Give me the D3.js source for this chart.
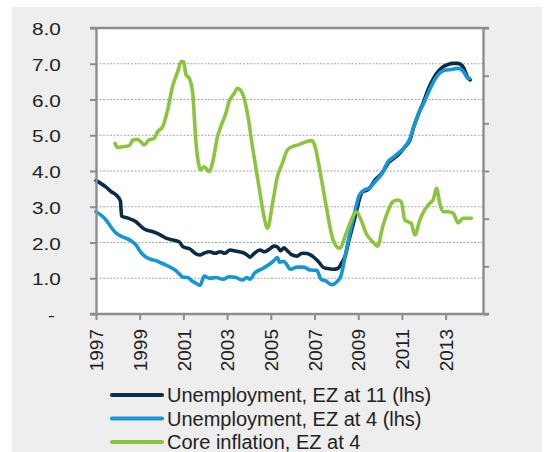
<!DOCTYPE html>
<html>
<head>
<meta charset="utf-8">
<script src="https://cdn.jsdelivr.net/npm/d3@7"></script>
<style>
  body { margin: 0; background: #fff; }
  svg text { font-family: "Liberation Sans", Arial, sans-serif; fill: #222; }
</style>
</head>
<body>
<svg id="chart" width="549" height="452"></svg>
<script>
// DATA
const ez11 = [[1997.00,3.73],[1997.25,3.64],[1997.46,3.55],[1997.7,3.42],[1997.92,3.33],[1998.12,3.16],[1998.17,2.74],[1998.46,2.68],[1998.83,2.58],[1999.06,2.45],[1999.29,2.35],[1999.5,2.32],[1999.75,2.27],[1999.98,2.2],[2000.2,2.12],[2000.45,2.08],[2000.66,2.05],[2000.84,2.0],[2000.98,1.88],[2001.3,1.82],[2001.58,1.68],[2001.76,1.65],[2001.94,1.70],[2002.2,1.74],[2002.45,1.70],[2002.68,1.74],[2002.9,1.70],[2003.13,1.79],[2003.4,1.76],[2003.7,1.72],[2003.9,1.66],[2004.05,1.59],[2004.25,1.70],[2004.5,1.79],[2004.7,1.74],[2004.9,1.80],[2005.15,1.90],[2005.3,1.88],[2005.45,1.77],[2005.6,1.85],[2005.74,1.78],[2005.95,1.66],[2006.2,1.62],[2006.43,1.70],[2006.66,1.69],[2006.85,1.64],[2007.02,1.56],[2007.2,1.45],[2007.39,1.31],[2007.6,1.27],[2007.85,1.25],[2008.08,1.28],[2008.26,1.45],[2008.4,1.62],[2008.58,2.07],[2008.86,2.72],[2009.1,3.30],[2009.2,3.42],[2009.35,3.45],[2009.49,3.50],[2009.77,3.75],[2010.09,3.94],[2010.41,4.25],[2010.62,4.35],[2010.82,4.45],[2011.1,4.65],[2011.37,4.87],[2011.55,5.25],[2011.74,5.57],[2012.0,5.95],[2012.19,6.27],[2012.45,6.60],[2012.65,6.78],[2012.9,6.92],[2013.11,6.98],[2013.35,7.01],[2013.57,7.01],[2013.75,6.95],[2013.89,6.80],[2014.0,6.62],[2014.12,6.55]];

const ez4 = [[1997.00,2.86],[1997.2,2.78],[1997.46,2.63],[1997.7,2.42],[1997.92,2.26],[1998.14,2.18],[1998.37,2.12],[1998.6,2.05],[1998.83,1.93],[1999.06,1.72],[1999.29,1.59],[1999.5,1.53],[1999.75,1.49],[2000.0,1.42],[2000.2,1.37],[2000.43,1.30],[2000.66,1.21],[2000.84,1.10],[2000.98,1.03],[2001.2,1.02],[2001.4,0.92],[2001.58,0.86],[2001.76,0.80],[2001.95,1.06],[2002.2,1.00],[2002.5,1.02],[2002.8,0.97],[2003.1,1.04],[2003.4,1.02],[2003.7,0.95],[2003.9,1.02],[2004.05,0.97],[2004.25,1.14],[2004.65,1.28],[2004.95,1.40],[2005.15,1.50],[2005.3,1.58],[2005.4,1.45],[2005.6,1.47],[2005.9,1.25],[2006.2,1.31],[2006.5,1.31],[2006.8,1.23],[2007.1,1.22],[2007.3,0.97],[2007.5,0.93],[2007.8,0.82],[2008.05,0.92],[2008.2,1.05],[2008.35,1.45],[2008.52,1.98],[2008.83,2.82],[2009.05,3.33],[2009.28,3.47],[2009.5,3.52],[2009.8,3.72],[2010.1,3.94],[2010.36,4.26],[2010.6,4.38],[2010.82,4.49],[2011.1,4.65],[2011.37,4.91],[2011.55,5.25],[2011.74,5.57],[2012.0,5.90],[2012.19,6.17],[2012.45,6.50],[2012.65,6.69],[2012.95,6.82],[2013.26,6.84],[2013.57,6.87],[2013.75,6.82],[2013.87,6.73],[2014.0,6.60],[2014.1,6.59]];

const coreInfl = [[1997.87,4.77],[1997.99,4.66],[1998.21,4.68],[1998.52,4.71],[1998.7,4.87],[1998.9,4.88],[1999.05,4.82],[1999.2,4.73],[1999.43,4.87],[1999.66,4.91],[1999.82,5.10],[2000.05,5.24],[2000.28,5.71],[2000.5,6.36],[2000.74,6.78],[2000.89,7.06],[2001.0,7.06],[2001.12,6.69],[2001.27,6.59],[2001.43,6.17],[2001.5,5.5],[2001.58,4.77],[2001.8,4.03],[2001.95,4.12],[2002.18,3.98],[2002.33,4.22],[2002.56,4.96],[2002.71,5.24],[2002.94,5.61],[2003.09,5.94],[2003.32,6.17],[2003.47,6.31],[2003.7,6.17],[2003.93,5.61],[2004.16,4.68],[2004.46,3.56],[2004.69,2.72],[2004.85,2.40],[2005.08,3.10],[2005.3,3.84],[2005.53,4.22],[2005.76,4.59],[2006.06,4.70],[2006.25,4.73],[2006.4,4.77],[2006.62,4.82],[2006.86,4.85],[2007.0,4.73],[2007.24,4.03],[2007.54,3.0],[2007.85,2.07],[2008.15,1.84],[2008.45,2.26],[2008.75,2.72],[2008.9,2.86],[2009.13,2.63],[2009.36,2.26],[2009.66,2.02],[2009.89,1.90],[2010.12,2.44],[2010.35,2.86],[2010.58,3.14],[2010.8,3.19],[2010.97,3.14],[2011.13,2.63],[2011.28,2.58],[2011.43,2.53],[2011.59,2.21],[2011.82,2.63],[2012.04,2.91],[2012.27,3.10],[2012.43,3.19],[2012.58,3.52],[2012.73,3.10],[2012.88,2.86],[2013.11,2.86],[2013.34,2.82],[2013.57,2.55],[2013.8,2.68],[2014.03,2.68],[2014.18,2.68]];

const yTicks = [0, 1, 2, 3, 4, 5, 6, 7, 8];
const xTicks = [1997, 1999, 2001, 2003, 2005, 2007, 2009, 2011, 2013];
const legendLabels = ["Unemployment, EZ at 11 (lhs)", "Unemployment, EZ at 4 (lhs)", "Core inflation, EZ at 4"];

//SETUP
const svg = d3.select("#chart");
const colors = ["#0c2b44", "#1796d5", "#8cc43f"];
const axisColor = "#8b8e90";

const plot = { left: 96, right: 483, top: 28, bottom: 314 };

svg.append("rect")
  .attr("x", 12).attr("y", 7)
  .attr("width", 530).attr("height", 445)
  .attr("fill", "#eeeeee");

svg.append("rect")
  .attr("x", plot.left).attr("y", plot.top)
  .attr("width", plot.right - plot.left).attr("height", plot.bottom - plot.top)
  .attr("fill", "#fff");

var xScale = d3.scaleLinear()
  .domain([1997, 2014.71])
  .range([plot.left, plot.right]);

var yScale = d3.scaleLinear()
  .domain([0, 8])
  .range([plot.bottom, plot.top]);

var yRight = d3.scaleLinear()
  .domain([0, 6])
  .range([plot.bottom, plot.top]);

// gridlines
svg.append("g")
  .selectAll("line")
  .data(yTicks.filter(d => d > 0 && d < 8))
  .enter()
  .append("line")
  .attr("x1", plot.left).attr("x2", plot.right)
  .attr("y1", d => yScale(d)).attr("y2", d => yScale(d))
  .attr("stroke", "#a6a6a6")
  .attr("stroke-width", 1)
  .attr("stroke-dasharray", "2,1.5");

// lines
var line = d3.line()
  .x(d => xScale(d[0]))
  .y(d => yScale(d[1]))
  .curve(d3.curveMonotoneX);

[ez11, ez4, coreInfl].forEach((series, i) => {
  svg.append("path")
    .datum(series)
    .attr("d", line)
    .attr("fill", "none")
    .attr("stroke", colors[i])
    .attr("stroke-width", 3.6)
    .attr("stroke-linejoin", "round")
    .attr("stroke-linecap", "round");
});

// top border
svg.append("line")
  .attr("x1", plot.left - 6).attr("x2", plot.right + 6)
  .attr("y1", plot.top).attr("y2", plot.top)
  .attr("stroke", axisColor).attr("stroke-width", 2.4);

// left axis
var yAxis = d3.axisLeft(yScale)
  .tickValues(yTicks)
  .tickSize(6)
  .tickSizeOuter(0)
  .tickFormat(d => d === 0 ? "-" : d.toFixed(1));

var gy = svg.append("g")
  .attr("transform", `translate(${plot.left},0)`)
  .call(yAxis);
gy.select(".domain").attr("stroke", axisColor).attr("stroke-width", 2.4);
gy.selectAll(".tick line").attr("stroke", axisColor).attr("stroke-width", 2);
gy.selectAll(".tick text")
  .attr("font-size", 16)
  .attr("fill", "#222")
  .attr("x", d => d === 0 ? -31.5 : -27)
  .attr("dy", "0.42em")
  .attr("transform", "scale(1.3,1)");

// right axis
var yAxisR = d3.axisRight(yRight)
  .ticks(6)
  .tickSize(6)
  .tickSizeOuter(0)
  .tickFormat("");

var gr = svg.append("g")
  .attr("transform", `translate(${plot.right},0)`)
  .call(yAxisR);
gr.select(".domain").attr("stroke", axisColor).attr("stroke-width", 2.4);
gr.selectAll(".tick line").attr("stroke", axisColor).attr("stroke-width", 2);

// bottom axis
var xAxis = d3.axisBottom(xScale)
  .tickValues(xTicks)
  .tickSize(6)
  .tickSizeOuter(0)
  .tickFormat(d3.format("d"));

var gx = svg.append("g")
  .attr("transform", `translate(0,${plot.bottom})`)
  .call(xAxis);
gx.select(".domain").remove();
gx.selectAll(".tick line").attr("stroke", axisColor).attr("stroke-width", 2);
gx.selectAll(".tick text")
  .attr("font-size", 19)
  .attr("fill", "#222")
  .attr("y", 0)
  .attr("dy", "0.35em")
  .attr("text-anchor", "end")
  .attr("transform", "translate(0,15) rotate(-90)");

svg.append("line")
  .attr("x1", plot.left - 6).attr("x2", plot.right + 6)
  .attr("y1", plot.bottom).attr("y2", plot.bottom)
  .attr("stroke", axisColor).attr("stroke-width", 2.4);

// legend
var legend = svg.append("g").attr("class", "legend");
var rows = legend.selectAll("g")
  .data(legendLabels)
  .enter()
  .append("g")
  .attr("transform", (d, i) => `translate(112,${395 + i * 23.5})`);

rows.append("line")
  .attr("x1", 0).attr("x2", 50)
  .attr("stroke", (d, i) => colors[i])
  .attr("stroke-width", 4.2)
  .attr("stroke-linecap", "round");

rows.append("text")
  .attr("x", 55)
  .attr("dy", "0.36em")
  .attr("font-size", 20)
  .text(d => d);
</script>
</body>
</html>
